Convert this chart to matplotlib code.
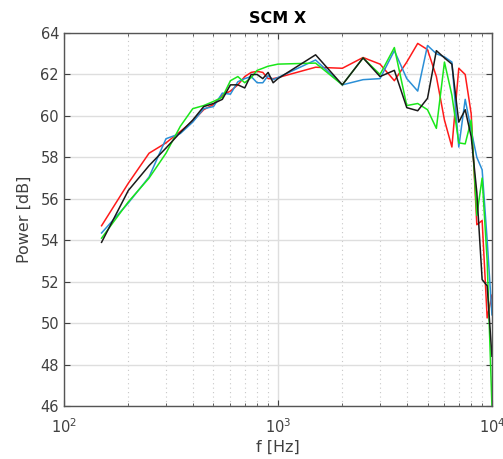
import numpy as np
import matplotlib
matplotlib.use("Agg")
from matplotlib import pyplot as plt
from matplotlib.ticker import LogLocator, NullFormatter

# frequency points (Hz)
freqs = [150, 200, 250, 300, 350, 400, 450, 500, 550, 600, 650, 700, 750, 800, 850, 900, 950, 1000,
         1500, 2000, 2500, 3000, 3500, 4000, 4500, 5000, 5500, 6000, 6500, 7000, 7500, 8000, 8500,
         9000, 9500, 10000]

red_db = [54.7, 56.75, 58.2, 58.7, 59.25, 59.75, 60.3, 60.55, 61.0, 61.2, 61.5, 61.9, 62.1, 62.15,
          62.1, 61.8, 61.8, 61.85, 62.35, 62.3, 62.82, 62.5, 61.7, 62.6, 63.5, 63.2, 61.9, 59.8,
          58.5, 62.3, 62.0, 60.1, 54.75, 54.95, 50.25, 51.35]

blue_db = [54.35, 55.8, 57.05, 58.9, 59.15, 59.7, 60.35, 60.45, 61.1, 61.05, 61.65, 61.8, 61.9, 61.6,
           61.6, 61.95, 61.75, 61.85, 62.7, 61.5, 61.75, 61.8, 63.15, 61.8, 61.2, 63.4, 63.0, 62.85,
           62.6, 58.5, 60.8, 59.3, 58.0, 57.4, 54.0, 50.4]

green_db = [54.1, 55.85, 57.0, 58.2, 59.5, 60.35, 60.5, 60.7, 60.9, 61.7, 61.9, 61.6, 61.85, 62.2,
            62.3, 62.4, 62.45, 62.5, 62.55, 61.5, 62.8, 62.0, 63.3, 60.5, 60.6, 60.3, 59.4, 62.6,
            61.0, 58.7, 58.65, 59.8, 55.2, 57.0, 53.0, 46.0]

black_db = [53.9, 56.4, 57.6, 58.45, 59.2, 59.8, 60.45, 60.6, 60.8, 61.5, 61.5, 61.35, 62.0, 62.0,
            61.8, 62.1, 61.6, 61.8, 62.95, 61.5, 62.8, 61.9, 62.2, 60.4, 60.25, 60.85, 63.15, 62.8,
            62.5, 59.7, 60.3, 59.0, 56.3, 52.1, 51.8, 48.4]

fig = plt.figure(figsize=(5.03, 4.59), dpi=100)
ax = fig.add_axes([0.127, 0.1155, 0.851, 0.8125])

ax.semilogx(freqs, red_db, color="#ff1a1a", lw=1.1)
ax.semilogx(freqs, blue_db, color="#2b8fd6", lw=1.1)
ax.semilogx(freqs, green_db, color="#1ae61a", lw=1.1)
ax.semilogx(freqs, black_db, color="#1a1a1a", lw=1.1)

ax.set_xlim(100, 10000)
ax.set_ylim(46, 64)
ax.set_yticks(np.arange(46, 65, 2))
ax.xaxis.set_major_locator(LogLocator(base=10, numticks=5))
ax.xaxis.set_minor_locator(LogLocator(base=10, subs=np.arange(2, 10), numticks=20))
ax.xaxis.set_minor_formatter(NullFormatter())

ax.grid(True, which="major", color="#dedede", lw=1.0)
ax.grid(True, which="minor", axis="x", color="#c8c8c8", lw=0.8, ls=(0, (1, 3)))
ax.set_axisbelow(True)

ax.tick_params(which="both", direction="in", top=True, right=True, colors="#404040",
               labelsize=10.5)
ax.tick_params(which="major", length=4)
ax.tick_params(which="minor", length=2)
ax.tick_params(axis="x", which="major", pad=8)
for s in ax.spines.values():
    s.set_color("#555555")
    s.set_linewidth(1.0)

ax.set_xlabel("f [Hz]", fontsize=11.5, color="#404040", labelpad=3)
ax.set_ylabel("Power [dB]", fontsize=11.5, color="#404040", labelpad=6)
ax.set_title("SCM X", fontsize=11.5, fontweight="bold", pad=7)

plt.savefig("out.png", dpi=100)
